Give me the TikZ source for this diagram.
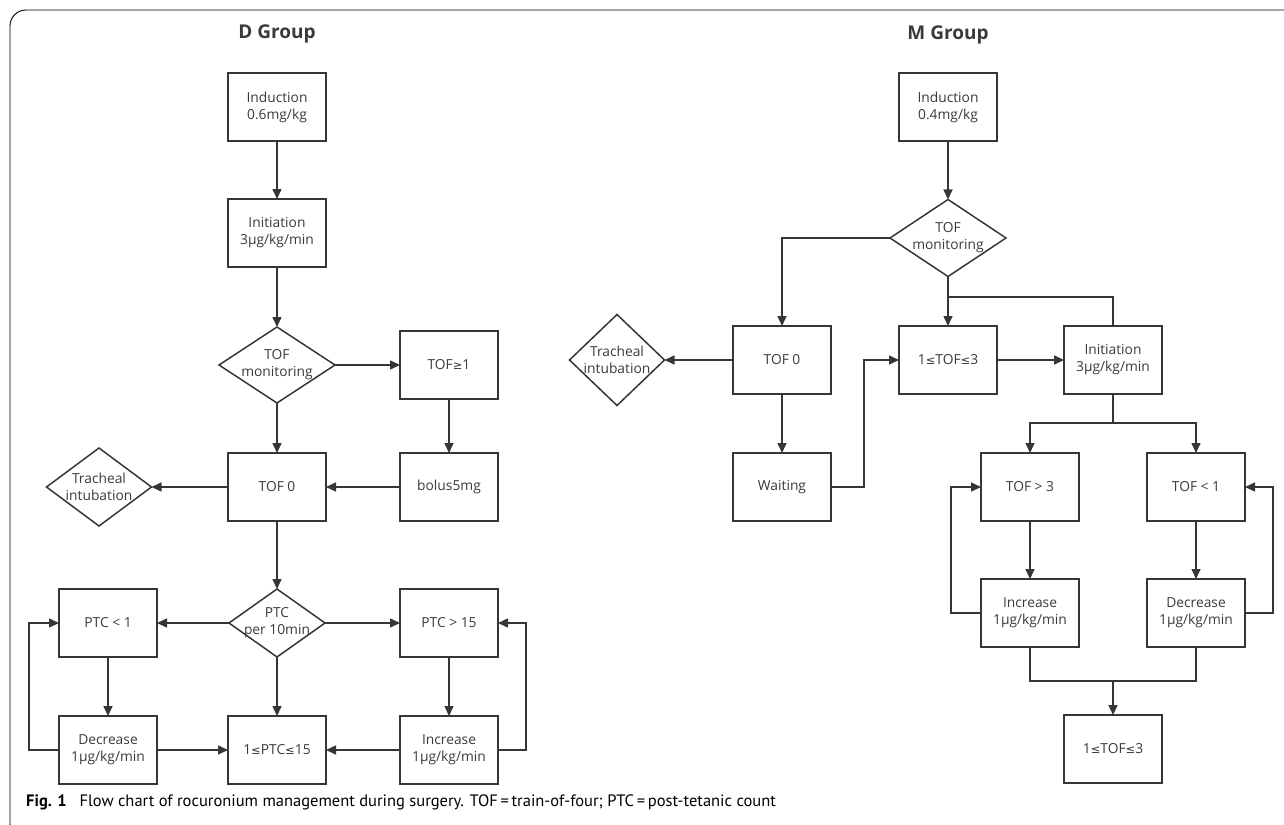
\documentclass[tikz,border=0pt]{standalone}
\usepackage{fontspec}
\setmainfont{Open Sans}
\newfontfamily\nodefont{Open Sans}
\newfontfamily\symfont{DejaVu Sans}
\newfontfamily\capfont{PT Sans}
\newcommand{\mle}{{\symfont\fontsize{11.5}{17}\selectfont ≤}}
\newcommand{\mge}{{\symfont\fontsize{11.5}{17}\selectfont ≥}}
\usetikzlibrary{arrows.meta,shapes.geometric,calc}
\definecolor{lc}{HTML}{363636}
\definecolor{tc}{HTML}{3A3A3A}
\begin{document}
\begin{tikzpicture}[x=1pt,y=-1pt,
  every node/.style={text=tc},
  box/.style={draw=lc, line width=1.5pt, minimum width=98pt, minimum height=68pt, inner sep=0pt, outer sep=0pt, align=center, font=\nodefont\fontsize{13.8}{17}\selectfont},
  dia/.style={draw=lc, diamond, line width=1.5pt, inner sep=0pt, outer sep=0pt},
  dtext/.style={align=center, font=\nodefont\fontsize{13.8}{17}\selectfont, text=tc, inner sep=0pt},
  conn/.style={draw=lc, line width=1.5pt},
  arr/.style={conn, -{Triangle[length=10pt,width=9pt]}},
  ttl/.style={font=\nodefont\bfseries\fontsize{19}{22}\selectfont, text=tc}]
\useasboundingbox (0,0) rectangle (1284,824);
% frame
\draw[line width=0.9pt, rounded corners=16pt] (1300,10) -- (10,10) -- (10,840) -- (60,840);

% ---------- D group ----------
\node[ttl] (dtitle) at (277,34) {D Group};
\node[box] (dind) at (277,107) {Induction\\0.6mg/kg};
\node[box] (dini) at (277,233) {Initiation\\3µg/kg/min};
\node[dia, minimum width=116pt, minimum height=76pt, label={[dtext]center:TOF\\monitoring}] (dtof) at (277,365) {};
\node[box] (dge1) at (449,365) {TOF\mge1};
\node[box] (dtof0) at (277,487) {TOF 0};
\node[box] (dbol) at (449,487) {bolus5mg};
\node[dia, minimum width=105pt, minimum height=78pt, label={[dtext]center:Tracheal\\intubation}] (dtrach) at (99,487) {};
\node[dia, minimum width=96pt, minimum height=68pt, label={[dtext]center:PTC\\per 10min}] (dptc) at (277,623) {};
\node[box] (dlt1) at (108,623) {PTC < 1};
\node[box] (dgt15) at (449,623) {PTC > 15};
\node[box] (ddec) at (108,750) {Decrease\\1µg/kg/min};
\node[box] (dmid) at (277,750) {1\mle PTC\mle 15};
\node[box] (dinc) at (449,750) {Increase\\1µg/kg/min};

\draw[arr] (dind) -- (dini);
\draw[arr] (dini) -- (dtof);
\draw[arr] (dtof) -- (dge1);
\draw[arr] (dge1) -- (dbol);
\draw[arr] (dbol) -- (dtof0);
\draw[arr] (dtof) -- (dtof0);
\draw[arr] (dtof0) -- (dtrach);
\draw[arr] (dtof0) -- (dptc);
\draw[arr] (dptc) -- (dlt1);
\draw[arr] (dptc) -- (dgt15);
\draw[arr] (dptc) -- (dmid);
\draw[arr] (dlt1) -- (ddec);
\draw[arr] (dgt15) -- (dinc);
\draw[arr] (ddec) -- (dmid);
\draw[arr] (dinc) -- (dmid);
\draw[arr] (ddec.west) -- ++(-30,0) |- (dlt1.west);
\draw[arr] (dinc.east) -- ++(28,0) |- (dgt15.east);

% ---------- M group ----------
\node[ttl] (mtitle) at (948,35) {M Group};
\node[box] (mind) at (948,107) {Induction\\0.4mg/kg};
\node[dia, minimum width=116pt, minimum height=77pt, label={[dtext]center:TOF\\monitoring}] (mtof) at (948,238) {};
\node[box] (mtof0) at (782,360) {TOF 0};
\node[dia, minimum width=95pt, minimum height=91pt, label={[dtext]center:Tracheal\\intubation}] (mtrach) at (617,360) {};
\node[box] (mwait) at (782,487) {Waiting};
\node[box] (mmid) at (948,360) {1\mle TOF\mle 3};
\node[box] (mini) at (1113,360) {Initiation\\3µg/kg/min};
\node[box] (mgt3) at (1030,487) {TOF > 3};
\node[box] (mlt1) at (1196,487) {TOF < 1};
\node[box] (minc) at (1030,613) {Increase\\1µg/kg/min};
\node[box] (mdec) at (1196,613) {Decrease\\1µg/kg/min};
\node[box] (mfin) at (1113,749) {1\mle TOF\mle 3};
\coordinate (mbr) at (948,297);
\coordinate (mmerge) at (1113,681);

\draw[arr] (mind) -- (mtof);
\draw[arr] (mtof.west) -| (mtof0.north);
\draw[arr] (mtof) -- (mmid);
\draw[conn] (mbr) -| (mini.north);
\draw[arr] (mtof0) -- (mtrach);
\draw[arr] (mtof0) -- (mwait);
\draw[arr] (mwait.east) -- ++(33,0) |- (mmid.west);
\draw[arr] (mmid) -- (mini);
\draw[arr] (mini.south) -- ++(0,29) -| (mgt3.north);
\draw[arr] (mini.south) -- ++(0,29) -| (mlt1.north);
\draw[arr] (mgt3) -- (minc);
\draw[arr] (mlt1) -- (mdec);
\draw[arr] (minc.west) -- ++(-30,0) |- (mgt3.west);
\draw[arr] (mdec.east) -- ++(28,0) |- (mlt1.east);
\draw[conn] (minc.south) -- ++(0,34) -| (mdec.south);
\draw[arr] (mmerge) -- (mfin);

% ---------- caption ----------
\node[anchor=west, inner sep=0pt, text=black, font=\capfont\fontsize{16.5}{18}\selectfont] (cap) at (26,802)
  {\textbf{Fig. 1}\hspace{0.5em} Flow chart of rocuronium management during surgery. TOF\,=\,train-of-four; PTC\,=\,post-tetanic count};
\end{tikzpicture}
\end{document}
